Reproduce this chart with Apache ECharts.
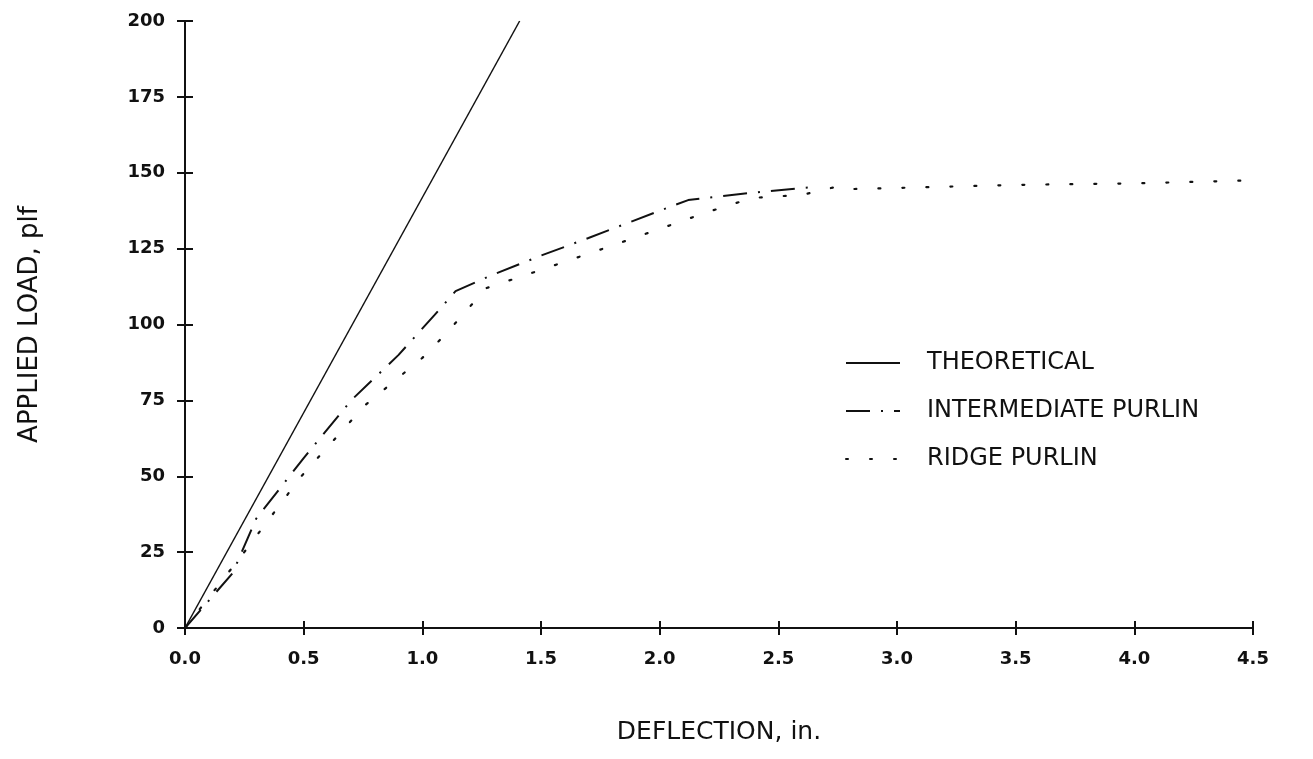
<!DOCTYPE html>
<html>
<head>
<meta charset="utf-8">
<script src="https://cdn.jsdelivr.net/npm/echarts@6/dist/echarts.min.js"></script>
<style>
  html, body { margin: 0; padding: 0; background: #fff; }
  #chart { width: 1313px; height: 759px; }
</style>
</head>
<body>
<div id="chart"></div>
<script>
// data: [deflection (in.), load (plf)]
var theoretical = [[0, 0], [1.41, 200]];
var intermediatePurlin = [
  [0, 0], [0.2, 18], [0.3, 36], [0.5, 56], [0.7, 75], [0.9, 90], [1.05, 103],
  [1.14, 111], [1.3, 116.5], [1.5, 122.7], [1.7, 128.5], [2.0, 137.5],
  [2.12, 141], [2.4, 143.5], [2.65, 145.3]
];
var ridgePurlin = [
  [0, 0], [0.24, 24], [0.49, 50], [0.76, 73.5], [1.0, 89], [1.1, 97],
  [1.27, 112], [1.5, 118], [1.8, 126], [2.0, 131.5], [2.2, 137], [2.39, 141.7],
  [2.6, 142.7], [2.75, 145.5], [2.8, 144.6], [3.0, 145], [3.5, 146],
  [4.0, 146.5], [4.45, 147.4]
];
var seriesNames = ['THEORETICAL', 'INTERMEDIATE PURLIN', 'RIDGE PURLIN'];

var font = 'DejaVu Sans, Verdana, sans-serif';
var ink = '#111';
var chart = echarts.init(document.getElementById('chart'));

// main axes draw labels + outer ticks, the second pair only the inner half of the ticks
function xAx(inner) {
  return {
    type: 'value', min: 0, max: 4.5, interval: 0.5, position: 'bottom',
    name: inner ? '' : 'DEFLECTION, in.', nameLocation: 'middle', nameGap: 92,
    nameTextStyle: { fontFamily: font, fontSize: 25, color: ink },
    axisLine: { show: !inner, lineStyle: { color: ink, width: 2 } },
    axisTick: { show: true, inside: inner, length: 7, lineStyle: { color: ink, width: 2 } },
    axisLabel: { show: !inner, margin: 22, fontFamily: font, fontSize: 18, fontWeight: 'bold', color: ink,
      formatter: function (v) { return v.toFixed(1); } },
    splitLine: { show: false }
  };
}
function yAx(inner) {
  return {
    type: 'value', min: 0, max: 200, interval: 25, position: 'left',
    name: inner ? '' : 'APPLIED LOAD, plf', nameLocation: 'middle', nameGap: 142, nameRotate: 90,
    nameTextStyle: { fontFamily: font, fontSize: 26, color: ink },
    axisLine: { show: !inner, lineStyle: { color: ink, width: 2 } },
    axisTick: { show: true, inside: inner, length: 8, lineStyle: { color: ink, width: 2 } },
    axisLabel: { show: !inner, margin: 20, fontFamily: font, fontSize: 18, fontWeight: 'bold', color: ink },
    splitLine: { show: false }
  };
}

var option = {
  backgroundColor: '#fff',
  animation: false,
  color: [ink, ink, ink],
  grid: { left: 185, right: 60, top: 21, bottom: 131 },
  xAxis: [xAx(false), xAx(true)],
  yAxis: [yAx(false), yAx(true)],
  legend: {
    orient: 'vertical', left: 840, top: 346, itemGap: 24, itemWidth: 54, itemHeight: 20,
    itemStyle: { opacity: 0 },
    textStyle: { fontFamily: font, fontSize: 24, color: ink, padding: [0, 0, 0, 22] },
    data: seriesNames
  },
  series: [
    { name: seriesNames[0], type: 'line', data: theoretical, symbol: 'none',
      lineStyle: { color: ink, width: 1.5 } },
    { name: seriesNames[1], type: 'line', data: intermediatePurlin, symbol: 'none',
      lineStyle: { color: ink, width: 2, type: [24, 11, 2, 11] } },
    { name: seriesNames[2], type: 'line', data: ridgePurlin, symbol: 'none',
      lineStyle: { color: ink, width: 2.2, type: [2, 22], cap: 'round' } }
  ]
};
chart.setOption(option);
</script>
</body>
</html>
